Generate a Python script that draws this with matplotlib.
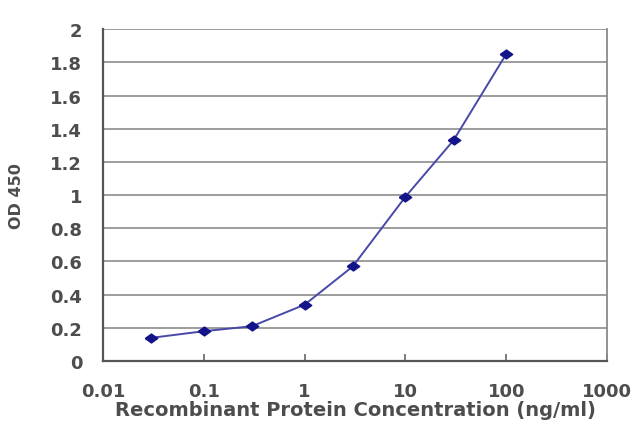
import matplotlib
matplotlib.use("Agg")
import matplotlib.pyplot as plt
from matplotlib.ticker import FixedLocator, FixedFormatter

conc = [0.03, 0.1, 0.3, 1, 3, 10, 30, 100]
od450 = [0.14, 0.18, 0.21, 0.34, 0.57, 0.99, 1.33, 1.85]
xticks = [0.01, 0.1, 1, 10, 100, 1000]
xlabels = ["0.01", "0.1", "1", "10", "100", "1000"]
yticks = [0, 0.2, 0.4, 0.6, 0.8, 1, 1.2, 1.4, 1.6, 1.8, 2]
ylabels = ["0", "0.2", "0.4", "0.6", "0.8", "1", "1.2", "1.4", "1.6", "1.8", "2"]

plt.rcParams['font.family'] = ['DejaVu Sans']

txt = "#4d4d4d"
# wide diamond (the source image is stretched horizontally)
wide_diamond = [(-1.4, 0), (0, 1), (1.4, 0), (0, -1), (-1.4, 0)]

fig = plt.figure(figsize=(6.4, 4.27), dpi=100)
ax = fig.add_axes([0.161, 0.152, 0.7875, 0.7775])

for yv in yticks[1:]:
    ax.axhline(yv, color="#959595", lw=1.3, zorder=1)

ax.plot(conc, od450, color="#4848a8", lw=1.4, marker=wide_diamond, ms=9,
        mfc="#14148a", mec="#14148a", zorder=3)

ax.set_xscale("log")
ax.set_xlim(0.01, 1000)
ax.set_ylim(0, 2)
ax.xaxis.set_major_locator(FixedLocator(xticks))
ax.xaxis.set_major_formatter(FixedFormatter(xlabels))
ax.xaxis.set_minor_locator(FixedLocator([]))
ax.yaxis.set_major_locator(FixedLocator(yticks))
ax.yaxis.set_major_formatter(FixedFormatter(ylabels))

ax.tick_params(axis="x", direction="in", length=5, width=1.2, color="#666666",
               labelsize=13, labelcolor=txt, pad=15)
ax.tick_params(axis="y", length=0, labelsize=13, labelcolor=txt, pad=15)
for lab in ax.get_xticklabels() + ax.get_yticklabels():
    lab.set_fontweight("bold")

for side in ["left", "bottom"]:
    ax.spines[side].set_color("#555555")
    ax.spines[side].set_linewidth(1.6)
ax.spines["right"].set_color("#8a8a8a")
ax.spines["right"].set_linewidth(1.3)
ax.spines["top"].set_visible(False)

ax.set_xlabel("Recombinant Protein Concentration (ng/ml)", fontsize=14,
              color=txt, fontweight="bold")
ax.xaxis.set_label_coords(0.5, -0.145)
ax.xaxis.label.set_va("center")
ax.set_ylabel("OD 450", fontsize=11.5, color=txt, fontweight="bold")
ax.yaxis.set_label_coords(-0.172, 0.5)
ax.yaxis.label.set_va("center")

fig.savefig("out.png", dpi=100)
